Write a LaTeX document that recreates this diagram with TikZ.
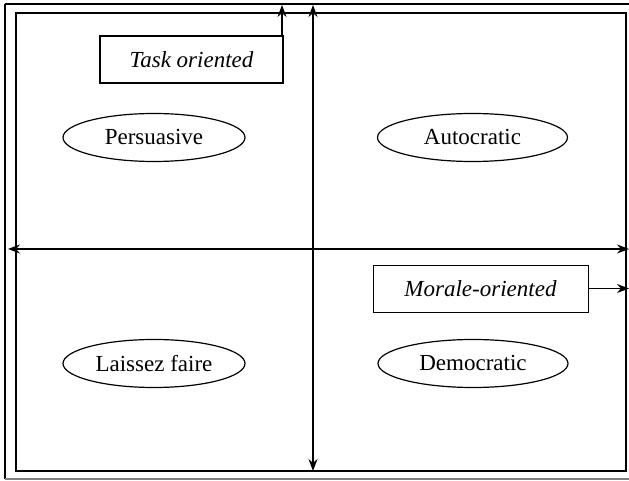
\documentclass[tikz,border=0pt]{standalone}
\usepackage{fontspec}
\setmainfont{Liberation Serif}
\usetikzlibrary{arrows.meta,shapes.geometric}

\begin{document}
\begin{tikzpicture}[x=0.5pt,y=-0.5pt,font=\fontsize{11.5}{14}\selectfont]
\tikzstyle{estilo}=[ellipse, draw=black, semithick, minimum width=91pt, minimum height=24pt, inner sep=0]
\tikzstyle{caixa}=[rectangle, draw=black, font=\fontsize{11.5}{14}\selectfont\itshape, inner sep=0]
\tikzstyle{seta}=[-{Stealth[length=6pt,width=4.5pt]}, semithick]
\useasboundingbox (0,0) rectangle (629,481);
% moldura
\draw[line width=1.3pt](5,4)--(629,4);
\draw[line width=1.3pt](5,4)--(5,479);
\draw[gray, semithick](5,479)--(629,479);
\draw[semithick](16,13) rectangle (626,471);
% eixos
\coordinate (esq) at (8,249);
\coordinate (dir) at (629,249);
\coordinate (topo) at (313,5);
\coordinate (base) at (313,471);
\draw[seta, {Stealth[length=6pt,width=4.5pt]}-{Stealth[length=6pt,width=4.5pt]}](esq)--(dir);
\draw[seta, {Stealth[length=6pt,width=4.5pt]}-{Stealth[length=6pt,width=4.5pt]}](topo)--(base);
% caixas
\node[caixa, line width=1.3pt, minimum width=91.5pt, minimum height=23.5pt] (task) at (191.5,59.5){Task oriented};
\node[caixa, thin, minimum width=107.5pt, minimum height=23.5pt] (moral) at (480.5,288.5){Morale-oriented};
\coordinate (tasktopo) at (282,5);
\coordinate (moralfim) at (629,288.5);
\draw[seta](task.north -| tasktopo)--(tasktopo);
\draw[seta](moral.east)--(moralfim);
% estilos
\node[estilo] (persuasive) at (154,137.5){Persuasive};
\node[estilo, minimum width=95pt] (autocratic) at (472.5,137.5){Autocratic};
\node[estilo] (laissez) at (154,363.5){Laissez faire};
\node[estilo, minimum width=95pt] (democratic) at (473,363.5){Democratic};
\end{tikzpicture}
\end{document}
